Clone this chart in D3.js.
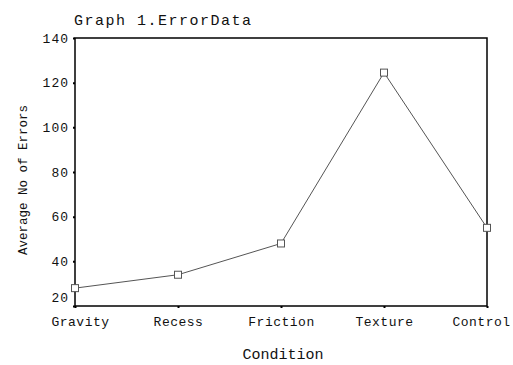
<!DOCTYPE html>
<html>
<head>
<meta charset="utf-8">
<script src="https://cdn.jsdelivr.net/npm/d3@7"></script>
<style>
  body { margin: 0; background: #fff; }
  text { font-family: "Liberation Mono", "Courier New", monospace; fill: #111; }
</style>
</head>
<body>
<script>
// data
const conditions = ['Gravity', 'Recess', 'Friction', 'Texture', 'Control']
const errors = [28, 34, 48, 124.5, 55]
const yTicks = [20, 40, 60, 80, 100, 120, 140]

const W = 513, H = 365
const m = { left: 75, top: 38, right: 26, bottom: 59 }

const svg = d3.select('body').append('svg')
    .attr('width', W)
    .attr('height', H)

const x = d3.scalePoint().domain(conditions).range([m.left, W - m.right]).padding(0)
const y = d3.scaleLinear().domain([20, 140]).range([H - m.bottom, m.top])

// frame
svg.append('rect')
    .attr('x', m.left).attr('y', m.top)
    .attr('width', W - m.right - m.left)
    .attr('height', H - m.bottom - m.top)
    .attr('fill', 'none').attr('stroke', '#000').attr('stroke-width', 1.5)

// y axis
const yAxis = svg.append('g')
    .attr('transform', `translate(${m.left},0)`)
    .call(d3.axisLeft(y).tickValues(yTicks).tickSize(2).tickPadding(4))
yAxis.select('.domain').remove()
yAxis.selectAll('line').attr('stroke', '#000').attr('stroke-width', 2)
yAxis.selectAll('text')
    .style('font-family', '"Liberation Mono", monospace')
    .style('font-size', '13px')
    .style('letter-spacing', '1px')
    .attr('fill', '#111')
yAxis.selectAll('.tick').filter(d => d == 20).select('text').attr('dy', '-0.35em')

// x axis
const xAxis = svg.append('g')
    .attr('transform', `translate(0,${H - m.bottom})`)
    .call(d3.axisBottom(x).tickSize(2).tickPadding(9))
xAxis.select('.domain').remove()
xAxis.selectAll('line').attr('stroke', '#000').attr('stroke-width', 2)
xAxis.selectAll('text')
    .style('font-family', '"Liberation Mono", monospace')
    .style('font-size', '13px')
    .style('letter-spacing', '0.5px')
    .attr('fill', '#111')
    .attr('dx', d => d == 'Gravity' ? 5 : d == 'Control' ? -6 : 0)

// line + markers
const line = d3.line()
    .x((d, i) => x(conditions[i]))
    .y(d => y(d))

svg.append('path')
    .datum(errors)
    .attr('d', line)
    .attr('fill', 'none')
    .attr('stroke', '#555')
    .attr('stroke-width', 1)

svg.selectAll('.pt')
    .data(errors)
    .enter()
    .append('rect')
    .attr('class', 'pt')
    .attr('x', (d, i) => x(conditions[i]) - 3.5)
    .attr('y', d => y(d) - 3.5)
    .attr('width', 7)
    .attr('height', 7)
    .attr('fill', '#fff')
    .attr('stroke', '#555')
    .attr('stroke-width', 1)

// titles
svg.append('text')
    .attr('x', 74).attr('y', 25)
    .style('font-size', '15px')
    .style('letter-spacing', '1.5px')
    .text('Graph 1.ErrorData')

svg.append('text')
    .attr('x', 283).attr('y', 359)
    .attr('text-anchor', 'middle')
    .style('font-size', '15px')
    .text('Condition')

svg.append('text')
    .attr('transform', 'translate(27,180) rotate(-90)')
    .attr('text-anchor', 'middle')
    .style('font-size', '12.5px')
    .text('Average No of Errors')
</script>
</body>
</html>
